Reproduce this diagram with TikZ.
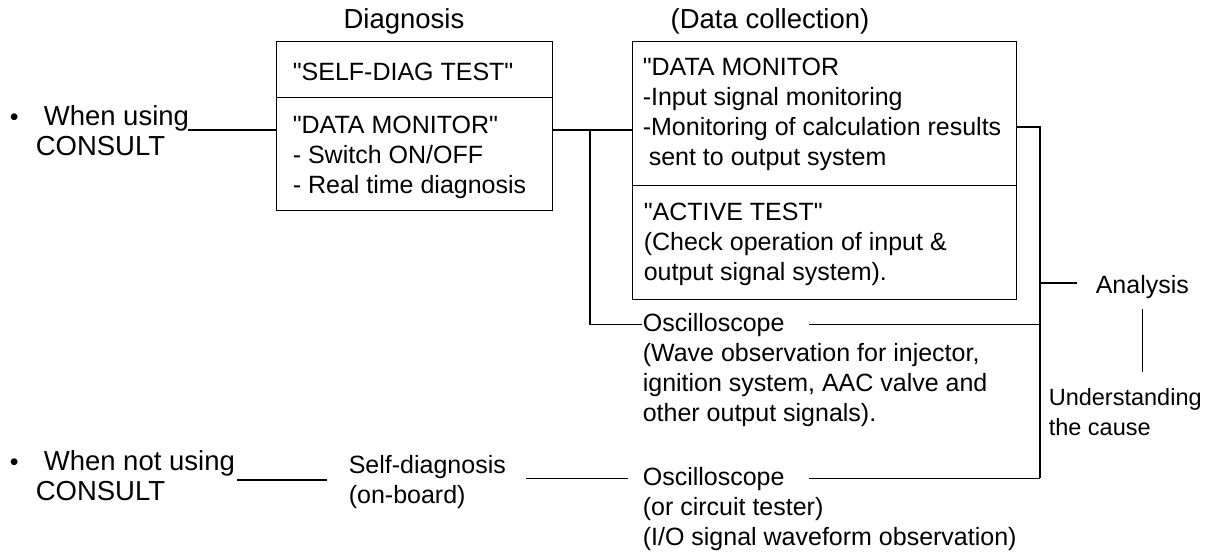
\documentclass[tikz,border=0pt]{standalone}
\font\lsf="Liberation Sans" at 25pt
\font\lsfl="Liberation Sans" at 27.5pt
\font\lsfs="Liberation Sans" at 23.5pt
\newcommand{\fsz}{\lsf\baselineskip=30pt\relax}
\newcommand{\fszl}{\lsfl\baselineskip=30pt\relax}
\newcommand{\fszs}{\lsfs\baselineskip=30pt\relax}
\newcommand{\stru}{\rule[-9pt]{0pt}{30pt}}
\begin{document}
\begin{tikzpicture}[x=1pt,y=-1pt,line width=1.6pt,
  box/.style={draw,line width=1.3pt,anchor=north west,inner sep=0pt},
  txt0/.style={inner sep=0pt,font=\fsz},
  txtl/.style={inner sep=0pt,font=\fszl},
  txt/.style={inner sep=0pt,font=\fsz,align=left,anchor=north west},
  txtlb/.style={inner sep=0pt,font=\fszl,align=left,anchor=north west}]
\useasboundingbox (0,0) rectangle (1210,558);
% headings
\node[txtl,anchor=base] (hdiag) at (404,28) {Diagnosis};
\node[txtl,anchor=base] (hdata) at (770,28) {(Data collection)};
% boxes
\node[box,minimum width=276pt,minimum height=56pt] (sdt) at (276,41) {};
\node[box,minimum width=276pt,minimum height=113pt] (dmon) at (276,97) {};
\node[box,minimum width=384pt,minimum height=144pt] (dmon2) at (632,41) {};
\node[box,minimum width=384pt,minimum height=114pt] (act) at (632,185) {};
% box texts
\node[txt0,anchor=base west] (t1) at (292,80) {"SELF-DIAG TEST"};
\node[txt] (t2) at (292,112) {\stru"DATA MONITOR"\\- Switch ON/OFF\\- Real time diagnosis};
\node[txt] (t3) at (642,54) {\stru"DATA MONITOR\\-Input signal monitoring\\-Monitoring of calculation results\\\hspace*{6pt}sent to output system};
\node[txt] (t4) at (643,199) {\stru"ACTIVE TEST"\\(Check operation of input \&\\output signal system).};
% left labels
\node[txt0,anchor=base west] (b1) at (9,125) {•};
\node[txtlb] (wu) at (35,104) {\stru\hspace*{8pt}When using\\CONSULT};
\node[txt0,anchor=base west] (b2) at (9,470) {•};
\node[txtlb] (wnu) at (35,449) {\stru\hspace*{8pt}When not using\\CONSULT};
% oscilloscopes
\node[txt0,anchor=base west] (osc1) at (642,331) {Oscilloscope};
\node[txt] (osc1d) at (642,340) {\stru(Wave observation for injector,\\ignition system, AAC valve and\\other output signals).};
\node[txt0,anchor=base west] (osc2) at (642,485) {Oscilloscope};
\node[txt] (osc2d) at (642,494) {\stru(or circuit tester)\\(I/O signal waveform observation)};
\node[txt] (sd) at (348,452) {\stru Self-diagnosis\\(on-board)};
% analysis
\node[txt0,anchor=base west] (analysis) at (1095,293) {Analysis};
\node[inner sep=0pt,font=\fszs,align=left,anchor=north west] (und) at (1048,384) {\stru Understanding\\the cause};
% connectors
\coordinate (wuend) at (188,130);
\draw (wuend) -- (wuend -| dmon.west);
\coordinate (j1) at (590,130);
\draw (j1 -| dmon.east) -- (j1 -| dmon2.west);
\draw (j1) |- (osc1.west);
\coordinate (r1) at (1040,127);
\coordinate (r2) at (1040,478);
\draw (r1 -| dmon2.east) -- (r1) -- (r2);
\draw[shorten <=24pt] (osc1.east) -- (osc1.east -| r1);
\draw[shorten <=24pt] (osc2.east) -- (osc2.east -| r1);
\coordinate (wnend) at (237,480);
\draw[shorten >=21pt] (wnend) -- (wnend -| sd.west);
\draw[shorten <=19pt,shorten >=14pt] (sd.east |- osc2.west) -- (osc2.west);
\coordinate (ra) at (1040,283);
\draw (ra) -- ([xshift=-18pt]analysis.west |- ra);
\draw[shorten <=10pt,shorten >=12pt] (analysis.south) -- (analysis.south |- und.north);
\end{tikzpicture}
\end{document}
